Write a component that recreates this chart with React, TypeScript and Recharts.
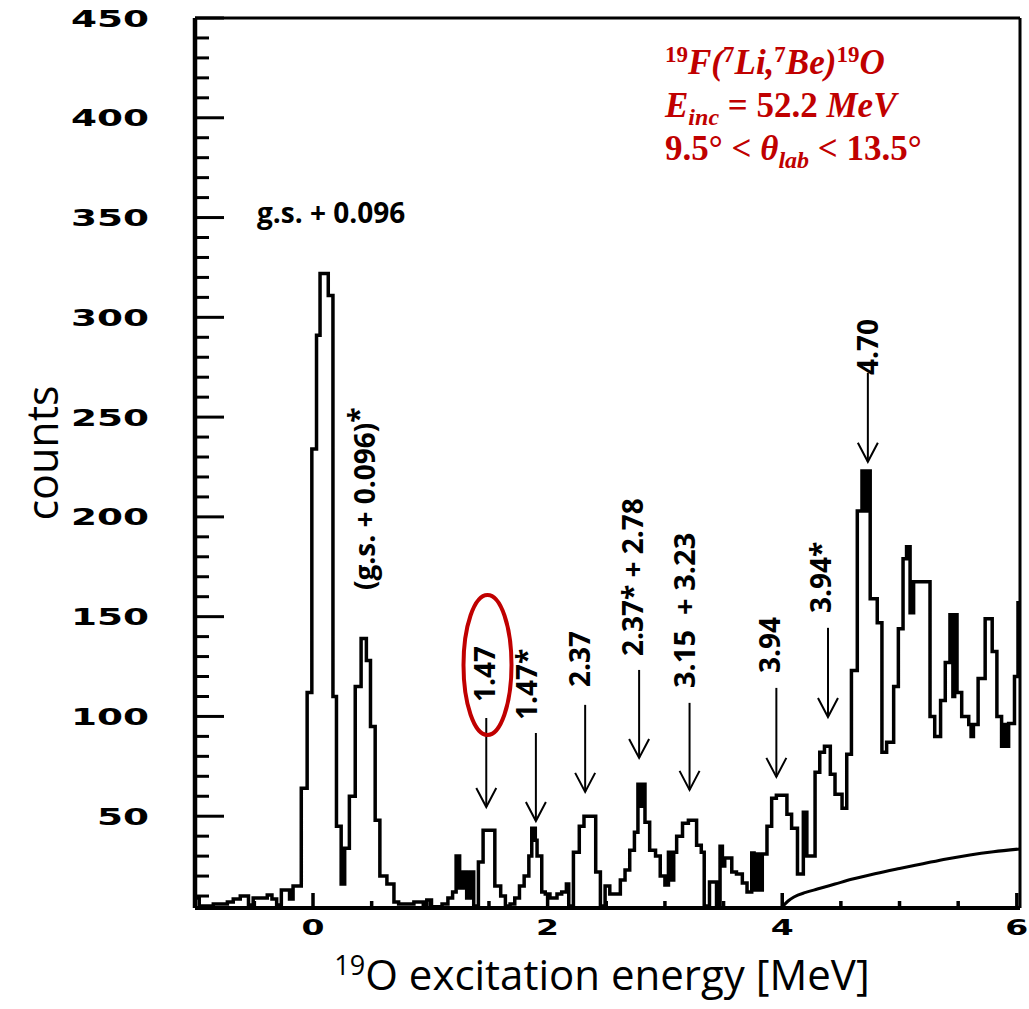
import React from 'react';
import { ComposedChart, Line, XAxis, YAxis, ReferenceLine } from 'recharts';

// ---- data ----
const HIST_E = [
  -1.006, -0.97, -0.85, -0.73, -0.68, -0.62, -0.55, -0.51, -0.39, -0.35, -0.31, -0.27, -0.2, -0.17,
  -0.1, -0.05, -0.01, 0.03, 0.06, 0.13, 0.17, 0.2, 0.24, 0.27, 0.31, 0.36, 0.41, 0.455, 0.49, 0.53,
  0.57, 0.63, 0.69, 0.73, 0.86, 0.94, 0.97, 1.01, 1.1, 1.15, 1.19, 1.22, 1.25, 1.28, 1.31, 1.34, 1.37,
  1.41, 1.45, 1.55, 1.6, 1.64, 1.68, 1.72, 1.76, 1.8, 1.84, 1.865, 1.895, 1.91, 1.95, 1.98, 2.02, 2.08,
  2.12, 2.16, 2.18, 2.22, 2.27, 2.31, 2.41, 2.45, 2.49, 2.53, 2.62, 2.66, 2.7, 2.74, 2.77, 2.795, 2.81,
  2.83, 2.87, 2.92, 2.96, 3.0, 3.03, 3.055, 3.075, 3.1, 3.15, 3.2, 3.27, 3.31, 3.335, 3.38, 3.44, 3.47,
  3.49, 3.51, 3.57, 3.61, 3.66, 3.7, 3.74, 3.76, 3.78, 3.8, 3.83, 3.87, 3.91, 3.95, 4.04, 4.08, 4.13,
  4.18, 4.21, 4.28, 4.32, 4.36, 4.41, 4.45, 4.51, 4.55, 4.59, 4.64, 4.68, 4.705, 4.72, 4.75, 4.81, 4.85,
  4.89, 4.95, 4.99, 5.03, 5.06, 5.09, 5.12, 5.26, 5.3, 5.35, 5.39, 5.43, 5.455, 5.47, 5.49, 5.53, 5.59,
  5.61, 5.63, 5.67, 5.73, 5.79, 5.83, 5.87, 5.895, 5.91, 5.93, 5.98, 6.01, 6.027,
];
const HIST_C = [
  9, 5, 6, 7, 8.5, 10, 5.5, 9, 10.5, 8.5, 5.5, 13, 8.5, 15,
  64, 112, 234, 291, 322, 311, 110, 45, 16, 34, 60, 115, 139, 128, 95, 48,
  20, 16, 7, 6, 7, 5.5, 8, 4.6, 6, 9, 12, 30, 14, 22, 9, 22, 5,
  27, 43, 15, 10, 5, 6, 9, 15, 20, 30, 44, 38, 30, 12, 11, 9, 11,
  12, 16, 5, 32, 45, 50, 22, 5, 15, 11, 18, 23, 33, 42, 66, 55, 66,
  47, 33, 30, 20, 15.5, 32, 18, 32, 40, 46.5, 48, 35.5, 32, 5, 17, 5, 35,
  25, 29, 22, 21, 16.5, 12, 31.5, 13, 31, 13, 31, 45, 59, 60.5, 51, 44, 21,
  52, 30, 72, 82, 85, 71, 61, 54, 81, 123, 203, 223, 203, 223, 159, 147, 82,
  87, 115, 144, 179, 185, 152, 167.5, 100, 90, 108, 127, 151, 110, 151, 112, 100, 96,
  90, 96, 119, 149, 132.5, 100, 85, 96, 85, 96.5, 120, 157, 157,
];
const BG_E = [4.0, 4.05, 4.1, 4.2, 4.3, 4.45, 4.6, 4.8, 5.0, 5.2, 5.4, 5.6, 5.8, 6.027];
const BG_C = [4.5, 7.5, 9.5, 11.8, 13.5, 16, 18.5, 21.3, 23.8, 26.2, 28.6, 30.6, 32.2, 33.6];

const X_TICKS = [-0.5, 0, 0.5, 1, 1.5, 2, 2.5, 3, 3.5, 4, 4.5, 5, 5.5, 6];
const X_LABELS = [0, 2, 4, 6];
const Y_TICKS = [10, 20, 30, 40, 50, 60, 70, 80, 90, 100, 110, 120, 130, 140, 150, 160, 170, 180, 190, 200,
  210, 220, 230, 240, 250, 260, 270, 280, 290, 300, 310, 320, 330, 340, 350, 360, 370, 380, 390, 400,
  410, 420, 430, 440, 450];
const Y_LABELS = [50, 100, 150, 200, 250, 300, 350, 400, 450];
const X_DOMAIN: [number, number] = [-1.006, 6.027];
const Y_DOMAIN: [number, number] = [4, 450];

// arrows: energy, count at top of shaft, count at tip
const ARROW_E = [1.477, 1.9, 2.32, 2.78, 3.21, 3.95, 4.39, 4.73];
const ARROW_TOP = [99.2, 91.7, 105.8, 123.3, 106.8, 114.3, 144.4, 272.2];
const ARROW_TIP = [54.6, 47.6, 62.2, 79.2, 63.2, 69.7, 99.7, 227.6];

const RED = '#c00000';
const W = 1029;
const H = 1009;
const PLOT_LEFT = 195;
const PLOT_TOP = 18;
const PLOT_RIGHT = 1020;
const PLOT_BOTTOM = 908;
const YAXIS_W = 100;
const XAXIS_H = 50;
const EDGE = 2;

const histData = HIST_E.map((e, i) => ({ e, c: HIST_C[i] }));
const bgData = BG_E.map((e, i) => ({ e, c: BG_C[i] }));

const YTick = (props: any) => {
  const { y, payload } = props;
  const v = payload.value;
  const major = Y_LABELS.includes(v);
  return (
    <g>
      <line x1={PLOT_LEFT} x2={PLOT_LEFT + (major ? 29 : 14)} y1={y} y2={y} stroke="#000" strokeWidth={3} />
      {major && (
        <text x={149} y={y + 8.5} textAnchor="end" fontFamily="DejaVu Sans" fontWeight="bold" fontSize={23}
          textLength={String(v).length * 26} lengthAdjust="spacingAndGlyphs" fill="#000">{v}</text>
      )}
    </g>
  );
};

const XTick = (props: any) => {
  const { x, payload } = props;
  const v = payload.value;
  const major = X_LABELS.includes(v);
  return (
    <g>
      <line x1={x} x2={x} y1={PLOT_BOTTOM} y2={PLOT_BOTTOM - (major ? 15 : 7)} stroke="#000" strokeWidth={3.5} />
      {major && (
        <text x={x} y={935} textAnchor="middle" fontFamily="DejaVu Sans" fontWeight="bold" fontSize={21}
          textLength={23} lengthAdjust="spacingAndGlyphs" fill="#000">{v}</text>
      )}
    </g>
  );
};

const ArrowShape = (p: any) => {
  const { x1, y1, x2, y2 } = p;
  return (
    <g>
      <line x1={x1} y1={y1} x2={x2} y2={y2} stroke="#000" strokeWidth={2} />
      <polyline points={`${x2 - 10},${y2 - 19} ${x2},${y2} ${x2 + 10},${y2 - 19}`} fill="none" stroke="#000" strokeWidth={2} />
    </g>
  );
};

const VLabel = ({ x, y, children, size = 28 }: any) => (
  <text x={x} y={y} transform={`rotate(-90 ${x} ${y})`} fontFamily="Open Sans" fontWeight={700}
    fontSize={size} fill="#000" style={{ whiteSpace: 'pre' }}>{children}</text>
);

export default function App() {
  return (
    <div style={{ position: 'absolute', left: 0, top: 0, width: W, height: H, background: '#fff' }}>
      <div style={{ position: 'absolute', left: 0, top: 0 }}>
        <ComposedChart width={W} height={H}
          margin={{
            top: PLOT_TOP - EDGE,
            right: W - PLOT_RIGHT - EDGE,
            bottom: H - PLOT_BOTTOM - XAXIS_H,
            left: PLOT_LEFT - YAXIS_W,
          }}>
          <XAxis type="number" dataKey="e" domain={X_DOMAIN} ticks={X_TICKS} interval={0}
            allowDataOverflow height={XAXIS_H} tick={<XTick />} tickLine={false}
            axisLine={{ stroke: '#000', strokeWidth: 4 }} />
          <XAxis xAxisId="top" orientation="top" type="number" dataKey="e" domain={X_DOMAIN}
            allowDataOverflow height={EDGE} tick={false} tickLine={false}
            axisLine={{ stroke: '#000', strokeWidth: 3 }} />
          <YAxis type="number" domain={Y_DOMAIN} ticks={Y_TICKS} interval={0} allowDataOverflow
            width={YAXIS_W} tick={<YTick />} tickLine={false} axisLine={{ stroke: '#000', strokeWidth: 4.5 }} />
          <YAxis yAxisId="right" orientation="right" type="number" domain={Y_DOMAIN} allowDataOverflow
            width={EDGE} tick={false} tickLine={false} axisLine={{ stroke: '#000', strokeWidth: 3 }} />
          <Line data={histData} dataKey="c" type="stepAfter" stroke="#000" strokeWidth={3.5}
            dot={false} activeDot={false} isAnimationActive={false} />
          <Line data={bgData} dataKey="c" type="monotone" stroke="#000" strokeWidth={3}
            dot={false} activeDot={false} isAnimationActive={false} />
          {ARROW_E.map((e, i) => (
            <ReferenceLine key={i} segment={[{ x: e, y: ARROW_TOP[i] }, { x: e, y: ARROW_TIP[i] }]}
              stroke="#000" strokeWidth={2} ifOverflow="visible" shape={ArrowShape} />
          ))}
        </ComposedChart>
      </div>
      <svg width={W} height={H} style={{ position: 'absolute', left: 0, top: 0, pointerEvents: 'none' }}>
        {/* axis titles */}
        <text x={58} y={453} transform="rotate(-90 58 453)" textAnchor="middle" fontFamily="Open Sans"
          fontSize={43} fill="#000">counts</text>
        <text x={602} y={990} textAnchor="middle" fontFamily="Open Sans" fontSize={42} fill="#000">
          <tspan fontSize={27} dy={-15}>19</tspan>
          <tspan dy={15}>O excitation energy [MeV]</tspan>
        </text>

        {/* red reaction title */}
        <text x={665} y={74} fill={RED} fontFamily="Liberation Serif" fontWeight="bold" fontSize={35}>
          <tspan fontSize={23} dy={-12}>19</tspan>
          <tspan fontStyle="italic" dy={12}>F(</tspan>
          <tspan fontSize={23} dy={-12}>7</tspan>
          <tspan fontStyle="italic" dy={12}>Li,</tspan>
          <tspan fontSize={23} dy={-12}>7</tspan>
          <tspan fontStyle="italic" dy={12}>Be)</tspan>
          <tspan fontSize={23} dy={-12}>19</tspan>
          <tspan fontStyle="italic" dy={12}>O</tspan>
        </text>
        <text x={665} y={117} fill={RED} fontFamily="Liberation Serif" fontWeight="bold" fontSize={35}>
          <tspan fontStyle="italic">E</tspan>
          <tspan fontStyle="italic" fontSize={24} dy={8}>inc</tspan>
          <tspan dy={-8}>{' = 52.2 '}</tspan>
          <tspan fontStyle="italic">MeV</tspan>
        </text>
        <text x={665} y={160} fill={RED} fontFamily="Liberation Serif" fontWeight="bold" fontSize={35}>
          <tspan>{'9.5° < '}</tspan>
          <tspan fontStyle="italic">θ</tspan>
          <tspan fontStyle="italic" fontSize={24} dy={8}>lab</tspan>
          <tspan dy={-8}>{' < 13.5°'}</tspan>
        </text>

        {/* peak labels */}
        <text x={257} y={223} fontFamily="Open Sans" fontWeight={700} fontSize={28} fill="#000">g.s. + 0.096</text>
        <VLabel x={375} y={590}>{'(g.s. + 0.096)'}<tspan dy={-6}>*</tspan></VLabel>
        <VLabel x={495} y={702}>1.47</VLabel>
        <VLabel x={537} y={720}>1.47*</VLabel>
        <VLabel x={590} y={687}>2.37</VLabel>
        <VLabel x={643} y={656}>2.37* + 2.78</VLabel>
        <VLabel x={695} y={688} size={29}>{'3.15  + 3.23'}</VLabel>
        <VLabel x={780} y={673}>3.94</VLabel>
        <VLabel x={831} y={613}>3.94*</VLabel>
        <VLabel x={878} y={375}>4.70</VLabel>

        <ellipse cx={487.5} cy={665} rx={24} ry={70} fill="none" stroke={RED} strokeWidth={4} />
      </svg>
    </div>
  );
}
